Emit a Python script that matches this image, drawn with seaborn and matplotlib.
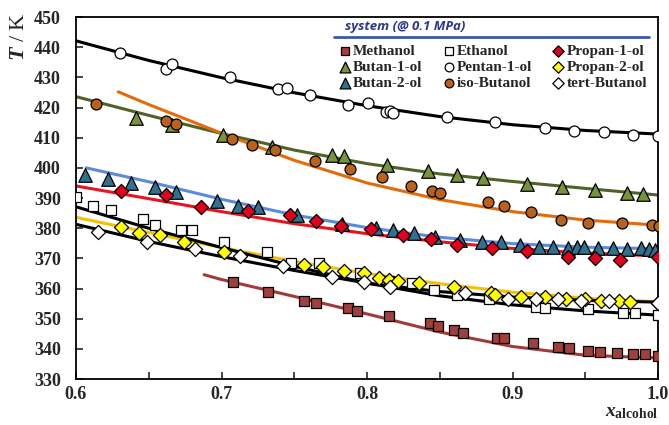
import numpy as np
import pandas as pd
import seaborn as sns
import matplotlib.pyplot as plt
from matplotlib.lines import Line2D
from matplotlib.ticker import MultipleLocator

# ---- experimental points (x_alcohol, T/K) ----
methanol_x = [0.708, 0.732, 0.757, 0.765, 0.787, 0.793, 0.815, 0.843, 0.849, 0.860, 0.866,
              0.889, 0.894, 0.914, 0.931, 0.939, 0.952, 0.960, 0.972, 0.983, 0.991, 1.000]
methanol_T = [362.3, 358.7, 356.0, 355.1, 353.4, 352.6, 351.0, 348.5, 347.7, 346.2, 345.3,
              343.7, 343.5, 342.0, 340.7, 340.4, 339.4, 339.0, 338.8, 338.3, 338.2, 337.6]

ethanol_x = [0.600, 0.612, 0.624, 0.646, 0.654, 0.672, 0.680, 0.702, 0.731, 0.748, 0.767,
             0.795, 0.815, 0.831, 0.846, 0.862, 0.884, 0.916, 0.922, 0.952, 0.976, 0.984, 1.000]
ethanol_T = [390.4, 387.3, 386.0, 382.9, 381.0, 379.4, 379.4, 375.5, 372.2, 368.5, 368.5,
             365.0, 362.5, 361.7, 359.5, 357.8, 356.7, 353.9, 353.4, 353.1, 351.8, 351.8, 351.2]

propan1_x = [0.631, 0.662, 0.686, 0.718, 0.747, 0.765, 0.782, 0.803, 0.825, 0.844, 0.862,
             0.886, 0.910, 0.938, 0.957, 0.974, 1.000]
propan1_T = [392.4, 391.0, 386.9, 385.7, 384.4, 382.5, 380.7, 379.6, 377.7, 376.3, 374.4,
             373.3, 372.5, 370.5, 370.0, 369.4, 370.3]

butan1_x = [0.641, 0.666, 0.701, 0.735, 0.776, 0.784, 0.814, 0.842, 0.862, 0.880, 0.910,
            0.934, 0.957, 0.979, 0.990]
butan1_T = [416.5, 414.2, 410.9, 407.0, 404.3, 403.8, 401.0, 398.8, 397.7, 396.6, 394.6,
            393.8, 392.7, 391.6, 391.3]

pentan1_x = [0.630, 0.662, 0.666, 0.706, 0.739, 0.745, 0.761, 0.787, 0.801, 0.813, 0.816,
             0.818, 0.855, 0.888, 0.922, 0.942, 0.963, 0.983, 1.000]
pentan1_T = [438.0, 432.8, 434.3, 430.2, 426.0, 426.4, 424.1, 420.8, 421.4, 418.6, 418.9,
             418.1, 417.0, 415.1, 413.1, 412.3, 411.8, 410.9, 410.5]

propan2_x = [0.631, 0.643, 0.658, 0.674, 0.702, 0.757, 0.770, 0.784, 0.798, 0.808, 0.815,
             0.821, 0.836, 0.860, 0.885, 0.888, 0.906, 0.922, 0.937, 0.950, 0.961, 0.973,
             0.981, 1.000]
propan2_T = [380.3, 378.3, 377.7, 375.5, 372.2, 367.8, 367.0, 365.9, 365.0, 363.6, 363.0,
             362.6, 361.7, 360.6, 358.4, 357.8, 357.3, 357.1, 356.4, 356.4, 356.0, 355.9,
             355.6, 355.3]

butan2_x = [0.606, 0.622, 0.638, 0.654, 0.669, 0.697, 0.711, 0.725, 0.752, 0.783, 0.806,
            0.818, 0.832, 0.847, 0.864, 0.879, 0.892, 0.905, 0.918, 0.928, 0.938, 0.944,
            0.949, 0.959, 0.969, 0.979, 0.988, 0.994, 0.998]
butan2_T = [397.7, 396.3, 394.9, 393.5, 391.9, 389.0, 387.2, 386.9, 384.4, 381.3, 380.2,
            379.4, 378.3, 377.2, 376.1, 375.6, 375.4, 374.5, 373.9, 373.9, 373.6, 373.9,
            373.9, 373.4, 373.6, 373.1, 373.4, 373.1, 372.8]

isobut_x = [0.614, 0.662, 0.669, 0.707, 0.721, 0.737, 0.764, 0.788, 0.810, 0.830, 0.845,
            0.850, 0.883, 0.894, 0.913, 0.933, 0.952, 0.975, 0.996, 1.001]
isobut_T = [421.2, 415.6, 414.5, 409.5, 407.6, 405.9, 402.3, 399.5, 396.9, 394.0, 392.4,
            391.8, 388.8, 387.3, 385.3, 382.7, 381.8, 381.6, 381.0, 380.8]

tertbut_x = [0.615, 0.649, 0.682, 0.713, 0.742, 0.776, 0.798, 0.816, 0.867, 0.897, 0.916,
             0.931, 0.947, 0.966, 1.000]
tertbut_T = [378.6, 375.5, 373.1, 370.8, 367.5, 363.9, 362.3, 360.6, 358.4, 356.7, 356.7,
             356.4, 355.9, 355.9, 355.3]

# ---- correlation curves ----
curve_x = [0.60, 0.65, 0.70, 0.75, 0.80, 0.85, 0.90, 0.95, 1.00]
pentan1_fit = [442.1, 435.6, 429.9, 424.9, 420.6, 417.0, 414.3, 412.4, 411.2]
butan1_fit = [423.6, 417.4, 411.4, 405.9, 401.4, 398.0, 395.5, 393.2, 391.0]
propan1_fit = [394.0, 389.8, 385.5, 381.5, 378.2, 375.5, 373.3, 371.8, 370.8]
ethanol_fit = [387.1, 380.0, 373.6, 367.4, 361.8, 357.6, 354.6, 352.6, 351.2]
propan2_fit = [383.6, 378.6, 373.6, 369.0, 365.0, 361.6, 358.8, 356.8, 355.6]
tertbut_fit = [381.3, 375.6, 370.6, 366.0, 361.8, 359.0, 357.2, 356.1, 355.5]
butan2_fit_x = [0.607, 0.65, 0.70, 0.75, 0.80, 0.85, 0.90, 0.95, 1.00]
butan2_fit = [400.0, 395.4, 389.6, 384.4, 380.2, 377.0, 374.9, 373.7, 373.2]
isobut_fit_x = [0.629, 0.65, 0.70, 0.75, 0.80, 0.85, 0.90, 0.95, 1.00]
isobut_fit = [425.2, 421.0, 411.5, 402.5, 395.0, 389.5, 385.5, 382.7, 381.0]
methanol_fit_x = [0.688, 0.70, 0.75, 0.80, 0.85, 0.90, 0.95, 1.00]
methanol_fit = [364.6, 363.0, 357.4, 351.6, 345.6, 340.8, 337.9, 337.0]

sns.set_style("ticks")
plt.rcParams['font.family'] = ['Liberation Serif', 'DejaVu Serif']
plt.rcParams['font.weight'] = 'bold'
plt.rcParams['mathtext.fontset'] = 'custom'
plt.rcParams['mathtext.it'] = 'Liberation Serif:italic:bold'
plt.rcParams['mathtext.rm'] = 'Liberation Serif:bold'
plt.rcParams['mathtext.bf'] = 'Liberation Serif:bold'

fig = plt.figure(figsize=(6.69, 4.25), dpi=100)
ax = fig.add_axes([0.1136, 0.108, 0.87, 0.852])

# fitted lines
fits = [
    (curve_x, pentan1_fit, 'black'),
    (curve_x, butan1_fit, '#4F6228'),
    (isobut_fit_x, isobut_fit, '#E36C09'),
    (butan2_fit_x, butan2_fit, '#5B8BDB'),
    (curve_x, propan1_fit, '#E8141E'),
    (curve_x, propan2_fit, '#F2C200'),
    (curve_x, ethanol_fit, 'black'),
    (curve_x, tertbut_fit, 'black'),
    (methanol_fit_x, methanol_fit, '#A33A3A'),
]
for xs, ys, c in fits:
    sns.lineplot(x=xs, y=ys, color=c, linewidth=2.2, ax=ax, sort=False, zorder=2)

series = [
    ('Methanol', methanol_x, methanol_T, 's', '#A0403C', 62),
    ('Butan-1-ol', butan1_x, butan1_T, '^', '#77933C', 95),
    ('Butan-2-ol', butan2_x, butan2_T, '^', '#31708F', 95),
    ('Ethanol', ethanol_x, ethanol_T, 's', 'white', 62),
    ('Pentan-1-ol', pentan1_x, pentan1_T, 'o', 'white', 62),
    ('iso-Butanol', isobut_x, isobut_T, 'o', '#B8621B', 62),
    ('Propan-1-ol', propan1_x, propan1_T, 'D', '#E3001B', 52),
    ('Propan-2-ol', propan2_x, propan2_T, 'D', '#FFFF00', 52),
    ('tert-Butanol', tertbut_x, tertbut_T, 'D', 'white', 52),
]
for name, xs, ys, m, c, s in series:
    df = pd.DataFrame({'x': xs, 'T': ys})
    sns.scatterplot(data=df, x='x', y='T', marker=m, color=c, edgecolor='black',
                    linewidth=0.9, s=s, ax=ax, zorder=3, label=name)

ax.set_xlim(0.6, 1.0)
ax.set_ylim(330, 450)
ax.xaxis.set_major_locator(MultipleLocator(0.1))
ax.xaxis.set_minor_locator(MultipleLocator(0.05))
ax.yaxis.set_major_locator(MultipleLocator(10))
ax.xaxis.set_major_formatter(plt.FuncFormatter(lambda v, p: f"{v:.1f}"))
ax.tick_params(which='both', direction='in', length=5, width=1.2, labelsize=13)
ax.tick_params(axis='x', pad=5)
ax.tick_params(axis='y', pad=11)
for sp in ax.spines.values():
    sp.set_linewidth(1.3)
    sp.set_color('black')

ax.set_xlabel(r'$x_{\mathrm{alcohol}}$', fontsize=14)
ax.xaxis.set_label_coords(0.955, -0.068)
ax.set_ylabel(r'$T$ / K', fontsize=16)
ax.yaxis.set_label_coords(-0.08, 0.945)

handles, labels = ax.get_legend_handles_labels()
leg = ax.legend(handles, labels, ncol=3, loc='upper right', bbox_to_anchor=(1.0, 0.955),
                frameon=True, facecolor='white', edgecolor='none', framealpha=1,
                fontsize=11, handletextpad=0.05, columnspacing=1.2, labelspacing=0.15,
                borderpad=0.2, handlelength=1.0, markerscale=0.8)
leg.set_zorder(5)

ax.text(0.462, 0.955, 'system (@ 0.1 MPa)', transform=ax.transAxes, fontsize=9.5,
        fontstyle='italic', fontweight='bold', color='#2B3990',
        family=['Open Sans', 'DejaVu Sans'], va='bottom', ha='left', zorder=6)
ax.add_line(Line2D([0.444, 0.985], [0.945, 0.945], transform=ax.transAxes,
                   color='#3A58A8', linewidth=2, zorder=6))

fig.savefig('out.png', dpi=100)
